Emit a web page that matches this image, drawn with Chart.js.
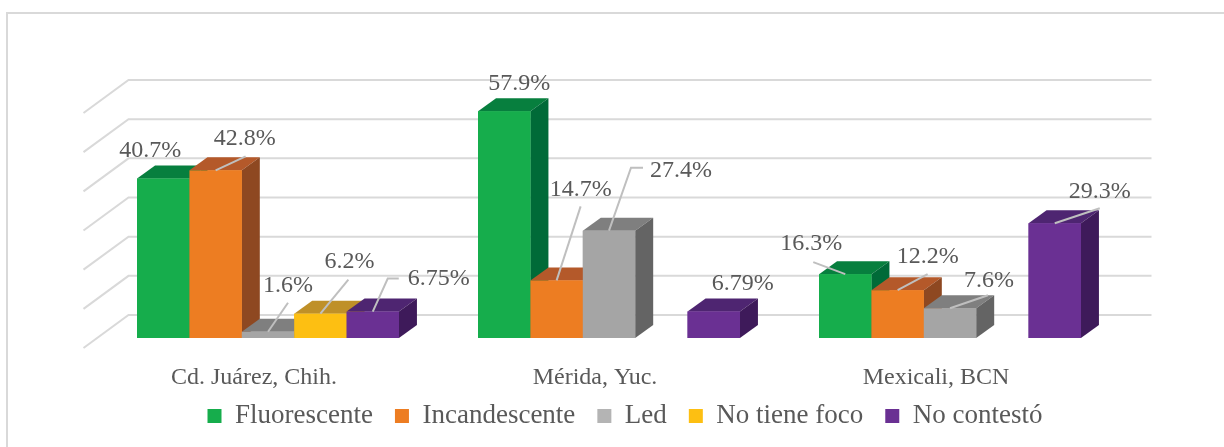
<!DOCTYPE html>
<html>
<head>
<meta charset="utf-8">
<script src="https://cdn.jsdelivr.net/npm/chart.js@4.4.1/dist/chart.umd.min.js"></script>
<style>
  body { margin: 0; background: #ffffff; }
  #wrap { width: 1224px; height: 447px; }
</style>
</head>
<body>
<div id="wrap"><canvas id="chart1" width="1224" height="447"></canvas></div>
<script>
// categories and series
const cities = ['Cd. Juárez, Chih.', 'Mérida, Yuc.', 'Mexicali, BCN']
const seriesNames = ['Fluorescente', 'Incandescente', 'Led', 'No tiene foco', 'No contestó']
const fluorescente = [40.7, 57.9, 16.3]
const incandescente = [42.8, 14.7, 12.2]
const led = [1.6, 27.4, 7.6]
const noTieneFoco = [6.2, null, null]
const noContesto = [6.75, 6.79, 29.3]
const valueLabels = [
    ['40.7%', '57.9%', '16.3%'],
    ['42.8%', '14.7%', '12.2%'],
    ['1.6%', '27.4%', '7.6%'],
    ['6.2%', '', ''],
    ['6.75%', '6.79%', '29.3%']
]

// colours: front, top, side
const fronts = ['#16ad4c', '#ed7d22', '#a5a5a5', '#fdbf12', '#6a3093']
const tops = ['#077f3e', '#b4592a', '#7f7f7f', '#bf9028', '#4e2571']
const sides = ['#006a38', '#8e4821', '#646464', '#a17a1c', '#3e1a5a']

// label placement relative to the bar's front-top centre: [dx, dy, leader points]
const labelLayout = [
    [[-13, -28], [15, -28], [-34, -30, [[-32, -12]]]],
    [[29, -32, [[30, -14]]], [24, -91, [[24, -74]]], [30, -34, [[30, -16]]]],
    [[20, -46, [[20, -29]]], [72, -60, [[22, -63], [34, -63]]], [39, -28, [[38, -13]]]],
    [[29, -52, [[28, -34]]], null, null],
    [[66, -33, [[15, -33], [26, -33]]], [29, -28], [45, -32, [[45, -15]]]]
]

const barDepth = { dx: 18, dy: -13 }
const wallShift = { dx: 31, dy: -23 }
const floorDepth = { dx: -45, dy: 33 }
const serif = '"Liberation Serif", "Times New Roman", serif'
const textColor = '#595959'

const threeD = {
    id: 'threeD',
    beforeDraw(chart) {
        const ctx = chart.ctx
        ctx.save()
        ctx.fillStyle = '#ffffff'
        ctx.fillRect(0, 0, chart.width, chart.height)
        ctx.strokeStyle = '#d9d9d9'
        ctx.lineWidth = 2
        ctx.strokeRect(7, 13, 1400, 600)
        ctx.restore()
    },
    beforeDatasetsDraw(chart) {
        const ctx = chart.ctx
        const area = chart.chartArea
        const ys = chart.scales.y
        ctx.save()
        ctx.strokeStyle = '#d9d9d9'
        ctx.lineWidth = 2
        ys.ticks.forEach(t => {
            const yy = ys.getPixelForValue(t.value) + wallShift.dy
            const xl = area.left + wallShift.dx
            ctx.beginPath()
            ctx.moveTo(xl + floorDepth.dx, yy + floorDepth.dy)
            ctx.lineTo(xl, yy)
            ctx.lineTo(area.right + wallShift.dx, yy)
            ctx.stroke()
        })
        // category labels, on the front plane
        const xs = chart.scales.x
        ctx.font = '24px ' + serif
        ctx.fillStyle = textColor
        ctx.textAlign = 'center'
        ctx.textBaseline = 'middle'
        chart.data.labels.forEach((lab, i) => {
            ctx.fillText(lab, xs.getPixelForValue(i) - 14, area.bottom + 40)
        })
        ctx.restore()
    },
    afterDatasetsDraw(chart) {
        const ctx = chart.ctx
        const sets = chart.data.datasets
        ctx.save()
        for (let c = 0; c < chart.data.labels.length; c++) {
            for (let d = 0; d < sets.length; d++) {
                if (sets[d].data[c] == null) continue
                const bar = chart.getDatasetMeta(d).data[c]
                const { x, y, base, width } = bar.getProps(['x', 'y', 'base', 'width'], true)
                const l = x - width / 2, r = x + width / 2
                const dx = barDepth.dx, dy = barDepth.dy
                ctx.fillStyle = tops[d]
                ctx.beginPath()
                ctx.moveTo(l, y); ctx.lineTo(l + dx, y + dy); ctx.lineTo(r + dx, y + dy); ctx.lineTo(r, y)
                ctx.closePath(); ctx.fill()
                ctx.fillStyle = sides[d]
                ctx.beginPath()
                ctx.moveTo(r, y); ctx.lineTo(r + dx, y + dy); ctx.lineTo(r + dx, base + dy); ctx.lineTo(r, base)
                ctx.closePath(); ctx.fill()
                ctx.fillStyle = fronts[d]
                ctx.fillRect(l, y, width, base - y)
            }
        }
        // data labels with leader lines
        ctx.font = '24px ' + serif
        ctx.textAlign = 'center'
        ctx.textBaseline = 'middle'
        for (let d = 0; d < sets.length; d++) {
            for (let c = 0; c < chart.data.labels.length; c++) {
                const lay = labelLayout[d][c]
                if (sets[d].data[c] == null || !lay) continue
                const bar = chart.getDatasetMeta(d).data[c]
                const { x, y } = bar.getProps(['x', 'y'], true)
                if (lay[2]) {
                    ctx.strokeStyle = '#bfbfbf'
                    ctx.lineWidth = 2
                    ctx.beginPath()
                    ctx.moveTo(x, y)
                    lay[2].forEach(p => ctx.lineTo(x + p[0], y + p[1]))
                    ctx.stroke()
                }
                ctx.fillStyle = textColor
                ctx.fillText(valueLabels[d][c], x + lay[0], y + lay[1])
            }
        }
        ctx.restore()
    }
}

const seriesData = [fluorescente, incandescente, led, noTieneFoco, noContesto]

const ctx = document.querySelector('#chart1').getContext('2d')
const chart1 = new Chart(ctx, {
    type: 'bar',
    data: {
        labels: cities,
        datasets: seriesNames.map((name, i) => ({
            label: name,
            data: seriesData[i],
            backgroundColor: fronts[i],
            borderWidth: 0
        }))
    },
    options: {
        responsive: false,
        animation: false,
        datasets: {
            bar: { categoryPercentage: 0.768, barPercentage: 1 }
        },
        layout: {
            padding: { top: 103, left: 26, right: 0, bottom: 7.5 }
        },
        scales: {
            x: {
                grid: { display: false, drawTicks: false },
                border: { display: false },
                ticks: { display: false },
                afterFit(s) { s.height = 42.5 }
            },
            y: {
                min: 0,
                max: 60,
                ticks: { display: false, stepSize: 10 },
                grid: { display: false, drawTicks: false },
                border: { display: false },
                afterFit(s) { s.width = 71.5 }
            },
            y2: {
                position: 'right',
                ticks: { display: false },
                grid: { display: false, drawTicks: false },
                border: { display: false },
                afterFit(s) { s.width = 103.5 }
            }
        },
        plugins: {
            tooltip: { enabled: false },
            legend: {
                display: true,
                position: 'bottom',
                labels: {
                    boxWidth: 14,
                    boxHeight: 14,
                    padding: 22,
                    color: textColor,
                    font: { family: serif, size: 27 },
                    generateLabels(chart) {
                        const items = Chart.defaults.plugins.legend.labels.generateLabels(chart)
                        items.forEach(it => {
                            if (it.text === 'Led') it.fillStyle = '#b4b4b4'
                            it.strokeStyle = 'rgba(0,0,0,0)'
                            it.lineWidth = 0
                        })
                        return items
                    }
                }
            }
        }
    },
    plugins: [threeD]
})
</script>
</body>
</html>
